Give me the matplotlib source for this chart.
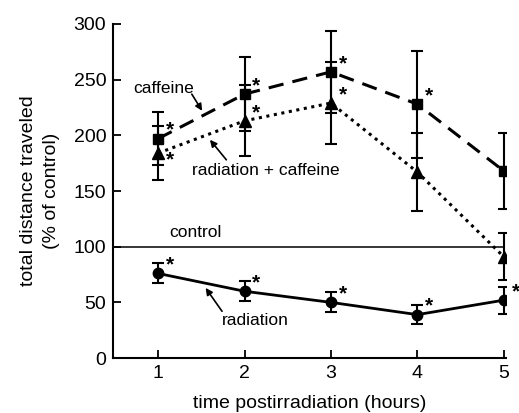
import matplotlib
matplotlib.use('Agg')
import matplotlib.pyplot as plt
import numpy as np

plt.rcParams['font.family'] = ['Liberation Sans', 'DejaVu Sans']

# data
hours = [1, 2, 3, 4, 5]
caffeine = [197, 237, 257, 228, 168]
caffeine_err = [24, 33, 37, 48, 34]
caffeine_sig = [True, True, True, True, False]
rad_caf = [184, 213, 229, 167, 91]
rad_caf_err = [24, 32, 37, 35, 21]
rad_caf_sig = [True, True, True, False, False]
radiation = [76, 60, 50, 39, 52]
radiation_err = [9, 9, 9, 8.5, 12]
radiation_sig = [True, True, True, True, True]
control = 100

fig = plt.figure(figsize=(5.19, 4.13), dpi=100)
ax = fig.add_axes([0.218, 0.133, 0.756, 0.809])

ebkw = dict(ecolor='black', elinewidth=1.5, capsize=4, capthick=1.5, color='black')
ax.errorbar(hours, caffeine, yerr=caffeine_err, marker='s', ms=7.5,
            ls=(0, (5, 3)), lw=2.2, **ebkw)
ax.errorbar(hours, rad_caf, yerr=rad_caf_err, marker='^', ms=8.5,
            ls=(0, (1, 1.5)), lw=2.2, **ebkw)
ax.errorbar(hours, radiation, yerr=radiation_err, marker='o', ms=7.5,
            ls='-', lw=2, **ebkw)
ax.plot([0.48, 5.0], [control, control], color='black', lw=1.1)


def stars(vals, sig, below=()):
    for i, (x, y, s) in enumerate(zip(hours, vals, sig)):
        if not s:
            continue
        dy = -5 if i in below else 6
        ax.annotate('*', (x, y), xytext=(8.5, dy), textcoords='offset points',
                    ha='center', va='center', fontsize=15, fontweight='bold')


stars(caffeine, caffeine_sig)
stars(rad_caf, rad_caf_sig, below=(0,))
stars(radiation, radiation_sig)

akw = dict(arrowstyle='-|>', color='black', lw=1.2, mutation_scale=10, shrinkA=0, shrinkB=0)
fs = 12.5
ax.text(1.06, 242, 'caffeine', ha='center', va='center', fontsize=fs)
ax.annotate('', xy=(1.51, 222), xytext=(1.39, 237), arrowprops=akw)
ax.text(2.25, 168, 'radiation + caffeine', ha='center', va='center', fontsize=fs)
ax.annotate('', xy=(1.60, 196), xytext=(1.79, 178), arrowprops=akw)
ax.text(1.43, 113, 'control', ha='center', va='center', fontsize=fs)
ax.text(2.12, 34, 'radiation', ha='center', va='center', fontsize=fs)
ax.annotate('', xy=(1.55, 63), xytext=(1.74, 42), arrowprops=akw)

ax.set_xlim(0.48, 5.02)
ax.set_ylim(0, 300)
ax.set_xticks(hours)
ax.set_yticks(np.arange(0, 301, 50))
ax.tick_params(direction='in', length=6, width=1.3, labelsize=14, pad=5)
for s in ['top', 'right']:
    ax.spines[s].set_visible(False)
for s in ['left', 'bottom']:
    ax.spines[s].set_linewidth(1.5)
ax.set_xlabel('time postirradiation (hours)', fontsize=14, labelpad=9)
ax.set_ylabel('total distance traveled\n(% of control)', fontsize=14, labelpad=10,
              linespacing=1.4)

fig.savefig('out.png', dpi=100)
